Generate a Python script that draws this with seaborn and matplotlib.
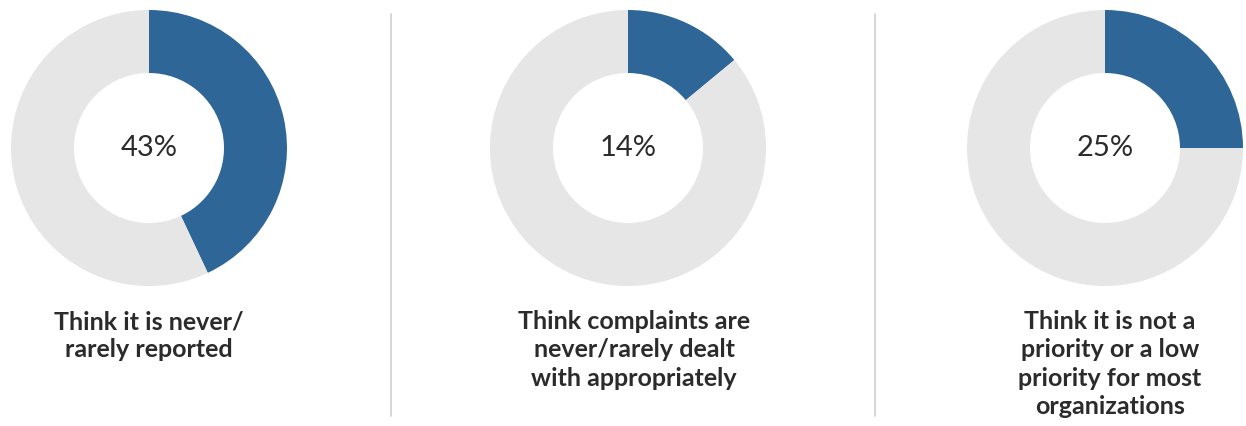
import numpy as np
import pandas as pd
import matplotlib
matplotlib.use("Agg")
import matplotlib.pyplot as plt
import seaborn as sns

# Survey shares shown in the three donuts
percentages = [43, 14, 25]
captions = [
    "Think it is never/\nrarely reported",
    "Think complaints are\nnever/rarely dealt\nwith appropriately",
    "Think it is not a\npriority or a low\npriority for most\norganizations",
]

sns.set_theme(style="white")
plt.rcParams['font.family'] = ['Lato', 'DejaVu Sans']

blue = "#2f6698"
grey = "#e6e6e6"

W, H = 1246, 426
fig = plt.figure(figsize=(W / 100, H / 100), dpi=100)

# donut centres in pixels, outer/inner radius
centres_x = [149, 628, 1105]
centre_y = 148
r_out, r_in = 138, 75
caption_x = [149, 634, 1110]

for i, pct in enumerate(percentages):
    cx = centres_x[i]
    ax = fig.add_axes([(cx - r_out) / W, (H - centre_y - r_out) / H,
                       2 * r_out / W, 2 * r_out / H])
    ax.pie([pct, 100 - pct], colors=[blue, grey], startangle=90,
           counterclock=False, radius=1,
           wedgeprops=dict(width=(r_out - r_in) / r_out, linewidth=0))
    ax.set_xlim(-1, 1)
    ax.set_ylim(-1, 1)
    ax.set_aspect("equal")
    ax.axis("off")
    ax.text(0, 0, f"{pct}%", ha="center", va="center", fontsize=21,
            color="#2b2b2b")

    fig.text(caption_x[i] / W, 1 - 310 / H, captions[i], ha="center", va="top",
             fontsize=18, fontweight="bold", color="#2b2b2b", linespacing=1.28)

# thin vertical dividers between panels
for x in [391, 875]:
    fig.add_artist(plt.Line2D([x / W, x / W], [1 - 14 / H, 1 - 416 / H],
                              color="#d0d0d0", linewidth=1.2))

fig.savefig("out.png", dpi=100, facecolor="white")
